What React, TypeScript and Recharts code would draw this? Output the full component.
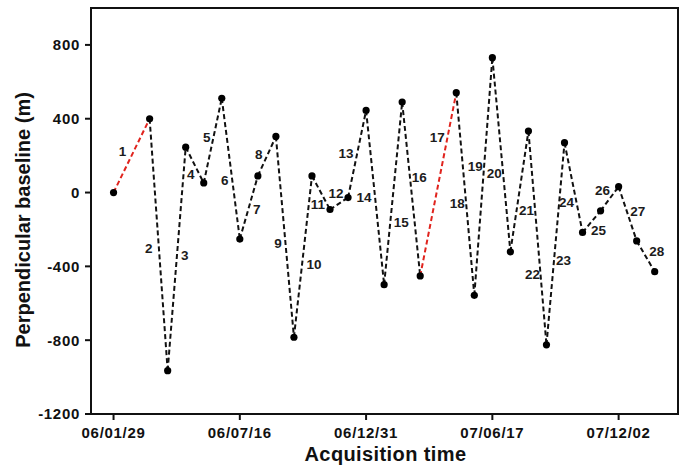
import React from 'react';
import { LineChart, Line, XAxis, YAxis, ReferenceArea, ReferenceDot } from 'recharts';

// acquisition dates (yy/mm/dd) and perpendicular baseline of each scene (m)
const acquisitionDates = [
  '06/01/29', '06/03/18', '06/04/11', '06/05/05', '06/05/29', '06/06/22', '06/07/16',
  '06/08/09', '06/09/02', '06/09/26', '06/10/20', '06/11/13', '06/12/07', '06/12/31',
  '07/01/24', '07/02/17', '07/03/13', '07/04/30', '07/05/24', '07/06/17', '07/07/11',
  '07/08/04', '07/08/28', '07/09/21', '07/10/15', '07/11/08', '07/12/02', '07/12/26',
  '08/01/19',
];
const baselines = [
  0, 400, -965, 246, 52, 511, -252, 90, 304, -784, 90, -92, -27, 445, -499, 490, -452,
  541, -557, 731, -321, 333, -825, 270, -216, -99, 32, -262, -429,
];
// interferometric pairs highlighted in red (pair number = index of the later scene)
const highlightedPairs = [1, 17];

const xTickLabels = ['06/01/29', '06/07/16', '06/12/31', '07/06/17', '07/12/02'];
const yTicks = [-1200, -800, -400, 0, 400, 800];

// pixel nudges for the pair numbers, relative to each segment's midpoint
const pairLabelNudge: [number, number][] = [
  [-9, -4], [-10, 4], [8, -3], [-4, 9], [-6, -3], [-6, 12], [8, 2], [-8, -2], [-7, 7],
  [11, 8], [-3, 12], [-3, -10], [-11, 0], [-11, 0], [8, 29], [8, -12], [-1, -47], [-8, 9],
  [-8, -10], [-7, 19], [7, 19], [-5, 37], [8, 17], [-7, 15], [7, 9], [-7, -8], [10, -2],
  [11, -5],
];

const FONT = '"Liberation Sans", Arial, sans-serif';

const dayOf = (s: string) => {
  const [yy, mm, dd] = s.split('/').map(Number);
  return (Date.UTC(2000 + yy, mm - 1, dd) - Date.UTC(2006, 0, 29)) / 86400000;
};

const points = acquisitionDates.map((d, i) => ({ t: dayOf(d), b: baselines[i] }));
const xTicks = xTickLabels.map(dayOf);
const xDomain: [number, number] = [-30, 751];

const segments = points.slice(1).map((p, i) => ({
  pair: i + 1,
  data: [points[i], p],
  color: highlightedPairs.includes(i + 1) ? '#e0231d' : '#111',
}));

const tickStyle = { fontSize: 15, fontWeight: 700, fill: '#111', fontFamily: FONT, letterSpacing: 0.7 };

export default function App() {
  return (
    <div style={{ position: 'absolute', left: 0, top: 0, background: '#fff' }}>
      <LineChart width={683} height={466} margin={{ top: 8, right: 5, left: 31, bottom: 22 }}>
        <XAxis
          type="number"
          dataKey="t"
          domain={xDomain}
          ticks={xTicks}
          tickFormatter={(v: number) => xTickLabels[xTicks.indexOf(v)] ?? ''}
          axisLine={{ stroke: '#111', strokeWidth: 2 }}
          tickLine={{ stroke: '#111', strokeWidth: 2 }}
          tickSize={6}
          tickMargin={7}
          tick={tickStyle}
          height={30}
          label={{
            content: ({ viewBox }: any) => (
              <text
                x={viewBox.x + viewBox.width / 2 + 1}
                y={viewBox.y + 47}
                textAnchor="middle"
                fontFamily={FONT}
                fontWeight={700}
                fontSize={20}
                letterSpacing={0.4}
                fill="#111"
              >
                Acquisition time
              </text>
            ),
          }}
        />
        <YAxis
          type="number"
          dataKey="b"
          domain={[-1200, 1000]}
          ticks={yTicks}
          axisLine={{ stroke: '#111', strokeWidth: 2 }}
          tickLine={{ stroke: '#111', strokeWidth: 2 }}
          tickSize={6}
          tickMargin={5}
          tick={tickStyle}
          width={60}
          label={{
            content: ({ viewBox }: any) => {
              const cy = viewBox.y + viewBox.height / 2 + 9;
              return (
                <text
                  x={29.5}
                  y={cy}
                  transform={`rotate(-90 29.5 ${cy})`}
                  textAnchor="middle"
                  fontFamily={FONT}
                  fontWeight={700}
                  fontSize={20}
                  fill="#111"
                >
                  Perpendicular baseline (m)
                </text>
              );
            },
          }}
        />
        <ReferenceArea
          x1={xDomain[0]}
          x2={xDomain[1]}
          y1={-1200}
          y2={1000}
          fill="none"
          stroke="#111"
          strokeWidth={2}
        />
        {segments.map((s) => (
          <Line
            key={s.pair}
            data={s.data}
            dataKey="b"
            type="linear"
            stroke={s.color}
            strokeWidth={2}
            strokeDasharray="5 3"
            dot={false}
            activeDot={false}
            isAnimationActive={false}
          />
        ))}
        <Line
          data={points}
          dataKey="b"
          stroke="none"
          dot={{ r: 3.6, fill: '#000', stroke: '#000', strokeWidth: 0 }}
          activeDot={false}
          isAnimationActive={false}
        />
        {segments.map((s, i) => {
          const [a, b] = s.data;
          const [dx, dy] = pairLabelNudge[i];
          return (
            <ReferenceDot
              key={`lbl-${s.pair}`}
              x={(a.t + b.t) / 2}
              y={(a.b + b.b) / 2}
              r={0}
              shape={(p: any) => (
                <text
                  x={p.cx + dx}
                  y={p.cy + dy}
                  textAnchor="middle"
                  dominantBaseline="central"
                  fontFamily={FONT}
                  fontWeight={700}
                  fontSize={13.5}
                  fill="#1c1c1c"
                >
                  {s.pair}
                </text>
              )}
            />
          );
        })}
      </LineChart>
    </div>
  );
}
